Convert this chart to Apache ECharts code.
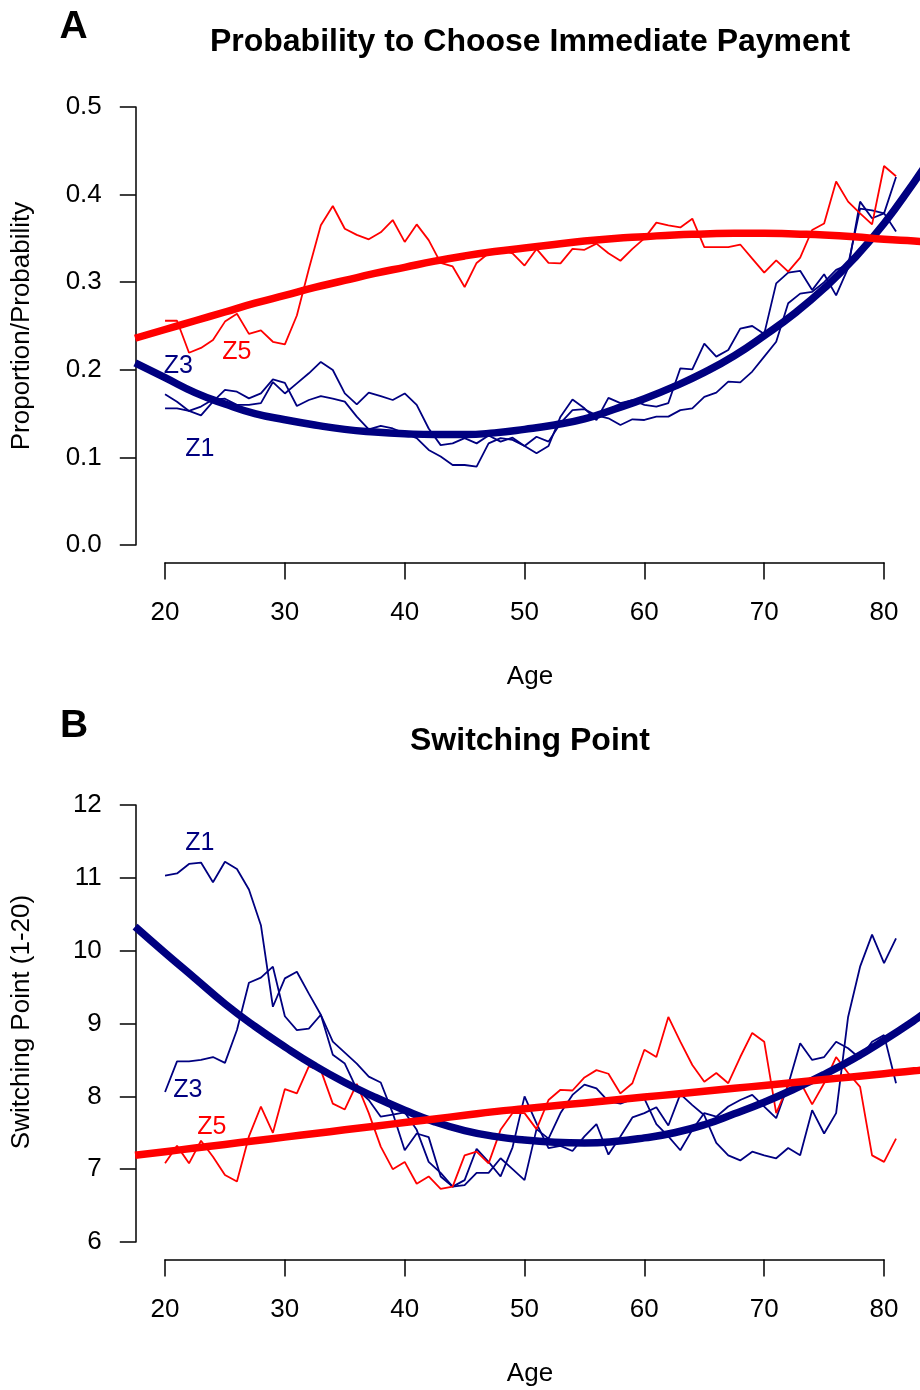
<!DOCTYPE html>
<html>
<head>
<meta charset="utf-8">
<script src="https://cdn.jsdelivr.net/npm/echarts@6/dist/echarts.min.js"></script>
<style>html,body{margin:0;padding:0;background:#fff}#c{width:920px;height:1390px}</style>
</head>
<body>
<div id="c"></div>
<script>
// ---------- data ----------
const ages = [20,21,22,23,24,25,26,27,28,29,30,31,32,33,34,35,36,37,38,39,40,41,42,43,44,45,46,47,48,49,50,
  51,52,53,54,55,56,57,58,59,60,61,62,63,64,65,66,67,68,69,70,71,72,73,74,75,76,77,78,79,80,81];

// Panel A: probability to choose immediate payment
const probZ5 = [0.256,0.256,0.2195,0.225,0.234,0.255,0.264,0.241,0.245,0.232,0.229,0.262,0.315,0.365,0.387,0.361,
  0.354,0.349,0.357,0.371,0.346,0.366,0.348,0.322,0.318,0.2945,0.322,0.333,0.337,0.333,0.319,0.338,0.322,0.3215,
  0.338,0.337,0.344,0.333,0.3245,0.338,0.350,0.368,0.365,0.3625,0.3725,0.340,0.340,0.340,0.343,0.327,0.311,0.325,
  0.312,0.328,0.3596,0.367,0.415,0.392,0.3786,0.366,0.4326,0.421];
const probZ3 = [0.172,0.1636,0.153,0.148,0.1636,0.177,0.175,0.1674,0.173,0.189,0.185,0.1587,0.1655,0.170,0.167,0.1636,
  0.1465,0.132,0.136,0.133,0.1275,0.122,0.1085,0.101,0.0913,0.0913,0.0894,0.116,0.122,0.120,0.113,0.1236,0.118,0.139,
  0.154,0.155,0.148,0.1446,0.137,0.1435,0.1427,0.1465,0.1465,0.154,0.156,0.169,0.174,0.1865,0.1857,0.198,0.215,0.232,
  0.276,0.287,0.289,0.300,0.314,0.320,0.384,0.382,0.3786,0.420];
const probZ1 = [0.156,0.156,0.153,0.158,0.166,0.167,0.160,0.160,0.162,0.186,0.173,0.1845,0.196,0.209,0.1998,0.173,
  0.1606,0.174,0.170,0.1655,0.173,0.160,0.133,0.114,0.116,0.122,0.116,0.125,0.118,0.1225,0.113,0.1047,0.113,0.1465,
  0.166,0.156,0.1427,0.168,0.162,0.1655,0.160,0.158,0.162,0.2017,0.2005,0.230,0.215,0.2226,0.247,0.250,0.241,0.2987,
  0.311,0.313,0.291,0.309,0.285,0.316,0.392,0.373,0.3786,0.358];

// Panel B: switching point
const switchZ1 = [11.03,11.06,11.19,11.21,10.94,11.22,11.12,10.84,10.35,9.23,9.62,9.71,9.41,9.12,8.75,8.60,8.45,8.27,
  8.19,7.77,7.26,7.49,7.44,6.90,6.76,6.85,7.28,7.10,6.90,7.30,8.00,7.63,7.29,7.32,7.25,7.45,7.62,7.20,7.45,7.71,7.77,
  7.85,7.60,8.03,7.88,7.74,7.36,7.19,7.12,7.24,7.19,7.15,7.29,7.19,7.81,7.49,7.77,9.09,9.78,10.22,9.83,10.17];
const switchZ3 = [8.06,8.48,8.48,8.50,8.54,8.46,8.91,9.56,9.63,9.78,9.10,8.91,8.93,9.12,8.57,8.45,8.10,7.95,7.72,7.75,
  7.78,7.54,7.10,6.95,6.76,6.78,6.95,6.95,7.15,7.00,6.85,7.55,7.42,7.77,8.02,8.16,8.11,7.93,7.90,7.96,7.97,7.62,7.45,
  7.26,7.54,7.77,7.72,7.86,7.95,8.02,7.86,7.70,8.16,8.73,8.50,8.54,8.75,8.66,8.52,8.75,8.84,8.18];
const switchZ5 = [7.08,7.32,7.08,7.39,7.17,6.92,6.83,7.45,7.86,7.50,8.10,8.04,8.41,8.36,7.90,7.82,8.17,7.77,7.31,7.00,
  7.10,6.80,6.90,6.73,6.76,7.19,7.24,7.08,7.54,7.77,7.77,7.55,7.95,8.09,8.08,8.26,8.36,8.31,8.04,8.18,8.64,8.54,9.09,
  8.75,8.43,8.20,8.32,8.18,8.54,8.87,8.75,7.77,8.15,8.20,7.89,8.18,8.54,8.32,8.13,7.19,7.10,7.42];

// Fitted curves
const fitAges = [17.5,20,22.5,25,27.5,30,32.5,35,37.5,40,42.5,45,47.5,50,52.5,55,57.5,60,62.5,65,67.5,70,72.5,75,77.5,80,82.5,83.5];
const probFitLow = [0.208,0.191,0.174,0.161,0.150,0.143,0.137,0.132,0.129,0.127,0.126,0.126,0.128,0.132,0.137,0.144,
  0.155,0.167,0.181,0.197,0.216,0.239,0.264,0.293,0.327,0.367,0.414,0.434];
const probFitHigh = [0.236,0.246,0.256,0.266,0.276,0.285,0.294,0.302,0.310,0.317,0.324,0.330,0.335,0.339,0.343,0.347,
  0.350,0.352,0.354,0.355,0.356,0.356,0.355,0.354,0.352,0.349,0.347,0.346];
const switchFitLow = [10.33,9.97,9.62,9.27,8.96,8.68,8.42,8.19,7.99,7.81,7.65,7.53,7.45,7.40,7.37,7.36,7.38,7.43,7.50,
  7.61,7.76,7.92,8.10,8.30,8.52,8.77,9.04,9.16];
const switchFitHigh = [7.19,7.24,7.29,7.34,7.39,7.44,7.49,7.54,7.59,7.64,7.69,7.74,7.79,7.83,7.87,7.91,7.95,7.99,8.03,
  8.07,8.11,8.15,8.19,8.23,8.27,8.31,8.35,8.37];

// Group labels anchored in data units
const labelNames = ['Z5','Z3','Z1'];
const labelAgeA = [26.0, 21.1, 22.9];
const labelValA = [0.220, 0.204, 0.1096];
const labelAgeB = [23.9, 21.9, 22.9];
const labelValB = [7.58, 8.09, 11.48];

// ---------- chart ----------
const FONT = '"Liberation Sans", Arial, Helvetica, sans-serif';
const NAVY = '#000080', RED = '#ff0000';
const groupColor = {Z1: NAVY, Z3: NAVY, Z5: RED};
const pairs = (xs, ys) => xs.map((x, i) => [x, ys[i]]);
const axLine = {color: '#000', width: 1.5};

function hidden(g, min, max) {
  return {type: 'value', gridIndex: g, min: min, max: max, show: false, splitLine: {show: false}};
}
function xAx(g) {
  return {type: 'value', gridIndex: g, min: 20, max: 80, interval: 10, position: 'bottom',
    axisLine: {show: true, onZero: false, lineStyle: axLine},
    axisTick: {show: true, length: 17, lineStyle: axLine},
    axisLabel: {fontSize: 26, color: '#000', margin: 37, fontFamily: FONT},
    splitLine: {show: false}};
}
function yAx(g, min, max, step, dec) {
  return {type: 'value', gridIndex: g, min: min, max: max, interval: step, position: 'left',
    axisLine: {show: true, onZero: false, lineStyle: axLine},
    axisTick: {show: true, length: 16, lineStyle: axLine},
    axisLabel: {fontSize: 26, color: '#000', margin: 34, fontFamily: FONT,
      formatter: v => Number(v).toFixed(dec)},
    splitLine: {show: false}};
}
function thin(name, xi, data, color) {
  return {type: 'line', name: name, xAxisIndex: xi, yAxisIndex: xi, data: data, symbol: 'none',
    lineStyle: {color: color, width: 1.8}, z: 2, silent: true, animation: false};
}
function thick(name, xi, data, color) {
  return {type: 'line', name: name, xAxisIndex: xi, yAxisIndex: xi, data: data, symbol: 'none', smooth: true,
    lineStyle: {color: color, width: 7.5}, z: 3, silent: true, animation: false};
}
function labels(xi, agesArr, valsArr) {
  return {type: 'scatter', xAxisIndex: xi, yAxisIndex: xi, symbol: 'circle', symbolSize: 2,
    itemStyle: {color: 'rgba(0,0,0,0)'}, z: 5, silent: true, animation: false,
    labelLayout: {hideOverlap: false},
    data: labelNames.map((n, i) => ({name: n, value: [agesArr[i], valsArr[i]],
      label: {show: true, position: 'inside', formatter: '{b}', fontSize: 25, fontFamily: FONT,
        color: groupColor[n], opacity: 1}}))};
}

const L = 135.8, W = 784.2;
const option = {
  backgroundColor: '#fff',
  animation: false,
  grid: [
    {left: L, top: 89.5, width: W, height: 473},
    {left: 165, top: 89.5, width: 719, height: 473},
    {left: L, top: 107, width: W, height: 438},
    {left: L, top: 787.5, width: W, height: 472},
    {left: 165, top: 787.5, width: 719, height: 472},
    {left: L, top: 805, width: W, height: 437}
  ],
  xAxis: [hidden(0, 17.56, 83.0), xAx(1), hidden(2, 0, 1), hidden(3, 17.56, 83.0), xAx(4), hidden(5, 0, 1)],
  yAxis: [hidden(0, -0.02, 0.52), hidden(1, 0, 1), yAx(2, 0, 0.5, 0.1, 1),
          hidden(3, 5.76, 12.24), hidden(4, 0, 1), yAx(5, 6, 12, 1, 0)],
  series: [
    thin('Z1', 0, pairs(ages, probZ1), NAVY),
    thin('Z3', 0, pairs(ages, probZ3), NAVY),
    thin('Z5', 0, pairs(ages, probZ5), RED),
    thick('fit low', 0, pairs(fitAges, probFitLow), NAVY),
    thick('fit high', 0, pairs(fitAges, probFitHigh), RED),
    labels(0, labelAgeA, labelValA),
    thin('Z1', 3, pairs(ages, switchZ1), NAVY),
    thin('Z3', 3, pairs(ages, switchZ3), NAVY),
    thin('Z5', 3, pairs(ages, switchZ5), RED),
    thick('fit low', 3, pairs(fitAges, switchFitLow), NAVY),
    thick('fit high', 3, pairs(fitAges, switchFitHigh), RED),
    labels(3, labelAgeB, labelValB)
  ],
  graphic: [
    {type: 'text', x: 73.5, y: 27.5, style: {text: 'A', font: 'bold 39px ' + FONT, fill: '#000', align: 'center', verticalAlign: 'middle'}},
    {type: 'text', x: 530, y: 42, style: {text: 'Probability to Choose Immediate Payment', font: 'bold 32px ' + FONT, fill: '#000', align: 'center', verticalAlign: 'middle'}},
    {type: 'text', x: 530, y: 677, style: {text: 'Age', font: '26px ' + FONT, fill: '#000', align: 'center', verticalAlign: 'middle'}},
    {type: 'text', x: 22, y: 326, rotation: Math.PI / 2, style: {text: 'Proportion/Probability', font: '26px ' + FONT, fill: '#000', align: 'center', verticalAlign: 'middle'}},
    {type: 'text', x: 74, y: 726, style: {text: 'B', font: 'bold 39px ' + FONT, fill: '#000', align: 'center', verticalAlign: 'middle'}},
    {type: 'text', x: 530, y: 741, style: {text: 'Switching Point', font: 'bold 32px ' + FONT, fill: '#000', align: 'center', verticalAlign: 'middle'}},
    {type: 'text', x: 530, y: 1374, style: {text: 'Age', font: '26px ' + FONT, fill: '#000', align: 'center', verticalAlign: 'middle'}},
    {type: 'text', x: 22, y: 1022, rotation: Math.PI / 2, style: {text: 'Switching Point (1-20)', font: '26px ' + FONT, fill: '#000', align: 'center', verticalAlign: 'middle'}}
  ]
};

const chart = echarts.init(document.getElementById('c'), null, {renderer: 'canvas'});
chart.setOption(option);
</script>
</body>
</html>
